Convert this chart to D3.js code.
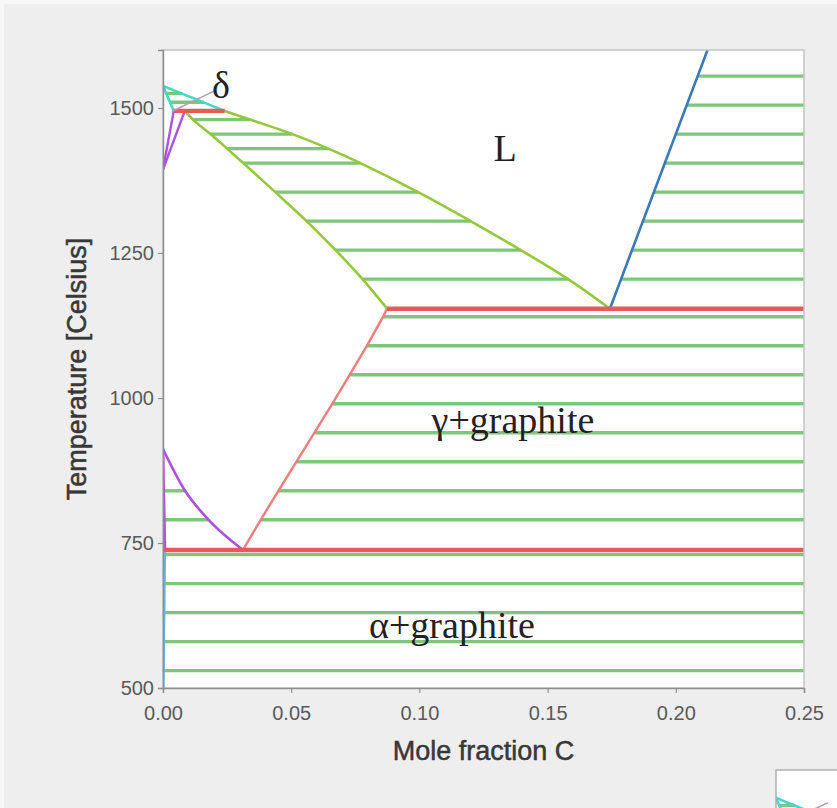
<!DOCTYPE html>
<html>
<head>
<meta charset="utf-8">
<script src="https://cdn.jsdelivr.net/npm/d3@7"></script>
<style>
  html, body { margin: 0; padding: 0; background: #f7f7f7; }
  svg { display: block; }
</style>
</head>
<body>
<svg id="chart" width="837" height="808"></svg>
<script>
// Fe–C phase diagram (graphite-stable), mole fraction C vs temperature (°C)

const xTicks = [0, 0.05, 0.10, 0.15, 0.20, 0.25];
const yTicks = [500, 750, 1000, 1250, 1500];

// Phase boundaries: [mole fraction C, temperature]
const deltaLiquidus   = [[0, 1538], [0.024, 1495]];
const deltaSolidus    = [[0, 1538], [0.0042, 1495]];
const deltaGammaHigh  = [[0, 1394], [0.0042, 1495]];
const deltaGammaLow   = [[0, 1394], [0.0085, 1495]];
const gammaLiquidus   = [[0.024, 1495], [0.034, 1480], [0.0505, 1455], [0.0645, 1430], [0.0770, 1405],
                         [0.0995, 1355], [0.1200, 1305], [0.1395, 1255], [0.1580, 1205], [0.1743, 1154]];
const gammaSolidus    = [[0.0085, 1495], [0.0117, 1480], [0.0185, 1455], [0.0250, 1430], [0.0313, 1405],
                         [0.0438, 1355], [0.0560, 1305], [0.0673, 1255], [0.0778, 1205], [0.0874, 1154]];
const graphiteLiquidus = [[0.1743, 1154], [0.2128, 1605]];
const acmLine         = [[0.0874, 1154], [0.0858, 1140], [0.0795, 1090], [0.0728, 1040], [0.0660, 990],
                         [0.0590, 940], [0.0520, 890], [0.0450, 840], [0.0381, 790], [0.0312, 738]];
const a3Line          = [[0, 912], [0.0086, 840], [0.0178, 790], [0.0312, 738]];
const alphaGammaLine  = [[0, 912], [0.0008, 738]];
const alphaSolvus     = [[0.0008, 738], [0.0002, 500]];

// Invariant reactions: [temperature, x from, x to]
const invariants = [[1495, 0.0042, 0.024], [1154, 0.0874, 0.25], [738, 0, 0.25]];

// Tie-lines: [temperature, x from, x to]
const tieDeltaL = [[1525, 0.0012, 0.0075], [1510, 0.0027, 0.016]];
const tieGammaL = [[1480, 0.0117, 0.034], [1455, 0.0185, 0.0505], [1430, 0.0250, 0.0645], [1405, 0.0313, 0.0770],
                   [1355, 0.0438, 0.0995], [1305, 0.0560, 0.1200], [1255, 0.0673, 0.1395], [1205, 0.0778, 0.1580]];
const tieLGraphite = [[1555, 0.2086, 0.25], [1505, 0.2043, 0.25], [1455, 0.2000, 0.25], [1405, 0.1957, 0.25],
                      [1355, 0.1914, 0.25], [1305, 0.1872, 0.25], [1255, 0.1829, 0.25], [1205, 0.1787, 0.25]];
const tieGammaGraphite = [[1140, 0.0858, 0.25], [1090, 0.0795, 0.25], [1040, 0.0728, 0.25], [990, 0.0660, 0.25],
                          [940, 0.0590, 0.25], [890, 0.0520, 0.25], [840, 0.0450, 0.25], [790, 0.0381, 0.25]];
const tieAlphaGamma = [[840, 0.0002, 0.0086], [790, 0.0004, 0.0178]];
const tieAlphaGraphite = [[730, 0.0008, 0.25], [680, 0.0007, 0.25], [630, 0.0005, 0.25],
                          [580, 0.0004, 0.25], [530, 0.0003, 0.25]];

// Phase-field labels: [text, x, temperature]
const fieldLabels = [["L", 0.1334, 1431], ["γ+graphite", 0.1365, 962], ["α+graphite", 0.1127, 609]];
const deltaLabel = ["δ", 0.0226, 1540];
const deltaLeader = [[0.0034, 1494], [0.0203, 1530]];

const colors = {
  tie: "#7ec679", boundary: "#93c83a", invariant: "#e65a5c", acm: "#f07c7c",
  purple: "#ad52dc", cyan: "#3fd9c9", blue: "#3b79bb", solvus: "#5fbfe0", leader: "#b59ab9"
};

const svg = d3.select("#chart");
const defs = svg.append("defs");
svg.append("rect").attr("x", 4).attr("y", 4).attr("width", 833).attr("height", 804).attr("fill", "#eeeeee");

const plot = { left: 163, right: 804, top: 50, bottom: 688 };
const x = d3.scaleLinear().domain([0, 0.25]).range([plot.left, plot.right]);
const y = d3.scaleLinear().domain([500, 1600]).range([plot.bottom, plot.top]);

function drawPhases(g, clipId) {
  defs.append("clipPath").attr("id", clipId).append("rect")
    .attr("x", plot.left).attr("y", plot.top)
    .attr("width", plot.right - plot.left).attr("height", plot.bottom - plot.top);
  const body = g.append("g").attr("clip-path", `url(#${clipId})`);
  body.append("rect").attr("x", plot.left).attr("y", plot.top)
    .attr("width", plot.right - plot.left).attr("height", plot.bottom - plot.top).attr("fill", "#fff");

  const ties = [].concat(tieDeltaL, tieGammaL, tieLGraphite, tieGammaGraphite, tieAlphaGamma, tieAlphaGraphite);
  body.append("g").selectAll("line").data(ties).join("line")
    .attr("x1", d => x(d[1])).attr("x2", d => x(d[2]))
    .attr("y1", d => y(d[0])).attr("y2", d => y(d[0]))
    .attr("stroke", colors.tie).attr("stroke-width", 3.4);

  const smooth = d3.line().x(d => x(d[0])).y(d => y(d[1])).curve(d3.curveCatmullRom);
  const monoX = d3.line().x(d => x(d[0])).y(d => y(d[1])).curve(d3.curveMonotoneX);
  const straight = d3.line().x(d => x(d[0])).y(d => y(d[1]));
  const curves = [
    [gammaLiquidus, colors.boundary, 2.6, smooth], [gammaSolidus, colors.boundary, 2.6, smooth],
    [graphiteLiquidus, colors.blue, 2.6, straight], [acmLine, colors.acm, 2.4, straight],
    [a3Line, colors.purple, 2.6, monoX], [alphaGammaLine, colors.purple, 2.6, straight],
    [alphaSolvus, colors.solvus, 2.2, straight],
    [deltaGammaHigh, colors.purple, 2.4, straight], [deltaGammaLow, colors.purple, 2.4, straight],
    [deltaLiquidus, colors.cyan, 2.6, straight], [deltaSolidus, colors.cyan, 2.6, straight]
  ];
  body.append("g").selectAll("path").data(curves).join("path")
    .attr("d", d => d[3](d[0])).attr("fill", "none")
    .attr("stroke", d => d[1]).attr("stroke-width", d => d[2])
    .attr("stroke-linejoin", "round").attr("stroke-linecap", "round");

  body.append("g").selectAll("line").data(invariants).join("line")
    .attr("x1", d => x(d[1])).attr("x2", d => x(d[2]))
    .attr("y1", d => y(d[0])).attr("y2", d => y(d[0]))
    .attr("stroke", colors.invariant).attr("stroke-width", 4.4);

  body.append("path").attr("d", straight(deltaLeader))
    .attr("stroke", colors.leader).attr("stroke-width", 1.6).attr("fill", "none");
  return body;
}

// Main diagram
const main = svg.append("g");
drawPhases(main, "plotClip");

// Frame: light border on top/right, axes on left/bottom
main.append("rect").attr("x", plot.left).attr("y", plot.top)
  .attr("width", plot.right - plot.left).attr("height", plot.bottom - plot.top)
  .attr("fill", "none").attr("stroke", "#c4c4c4").attr("stroke-width", 1.5);

const xAxis = main.append("g").attr("transform", `translate(0,${plot.bottom})`)
  .call(d3.axisBottom(x).tickValues(xTicks).tickFormat(d3.format(".2f")).tickSize(5).tickPadding(13));
const yAxis = main.append("g").attr("transform", `translate(${plot.left},0)`)
  .call(d3.axisLeft(y).tickValues(yTicks).tickFormat(d3.format("d")).tickSize(5).tickPadding(4));
[xAxis, yAxis].forEach(a => {
  a.select(".domain").attr("stroke", "#8e8e8e").attr("stroke-width", 1.5);
  a.selectAll(".tick line").attr("stroke", "#8e8e8e").attr("stroke-width", 1.2);
  a.selectAll(".tick text").attr("fill", "#5a5a5a")
    .style("font-family", "'Liberation Sans', Arial, sans-serif").style("font-size", "20px");
});

main.append("text").attr("x", (plot.left + plot.right) / 2).attr("y", 760)
  .attr("text-anchor", "middle").attr("fill", "#383838").attr("stroke", "#383838").attr("stroke-width", 0.5)
  .style("font-family", "'Liberation Sans', Arial, sans-serif").style("font-size", "27px")
  .text("Mole fraction C");
main.append("text").attr("transform", `translate(86,${(plot.top + plot.bottom) / 2}) rotate(-90)`)
  .attr("text-anchor", "middle").attr("fill", "#383838").attr("stroke", "#383838").attr("stroke-width", 0.5)
  .style("font-family", "'Liberation Sans', Arial, sans-serif").style("font-size", "27px")
  .text("Temperature [Celsius]");

main.append("g").selectAll("text").data(fieldLabels.concat([deltaLabel])).join("text")
  .attr("x", d => x(d[1])).attr("y", d => y(d[2]))
  .attr("text-anchor", "middle").attr("dominant-baseline", "central")
  .attr("fill", "#222")
  .style("font-family", "'Liberation Serif', 'Times New Roman', serif").style("font-size", "38px")
  .text(d => d[0]);

// Corner of the next panel below
const nextPanel = svg.append("g");
defs.append("clipPath").attr("id", "nextClip")
  .append("rect").attr("x", 776).attr("y", 770).attr("width", 70).attr("height", 50);
const inner = nextPanel.append("g").attr("clip-path", "url(#nextClip)")
  .append("g").attr("transform", `translate(${776 - plot.left},${770 - plot.top - 8})`);
drawPhases(inner, "nextPlotClip");
nextPanel.append("rect").attr("x", 776).attr("y", 770).attr("width", 80).attr("height", 60)
  .attr("fill", "none").attr("stroke", "#b0b0b0").attr("stroke-width", 1.5);
</script>
</body>
</html>
